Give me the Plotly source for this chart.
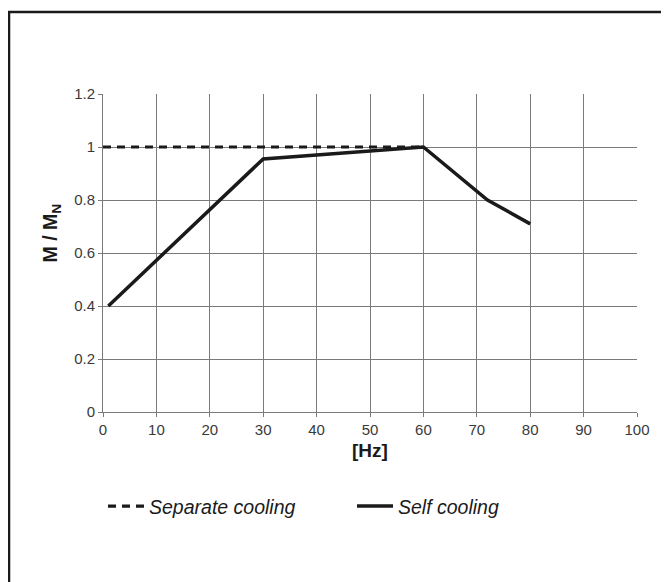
import plotly.graph_objects as go

# frequency [Hz] and torque ratio M / M_N
separate_hz = [0, 60]
separate_m = [1.0, 1.0]

self_hz = [1, 30, 60, 72, 80]
self_m = [0.40, 0.955, 1.0, 0.80, 0.71]

x_ticks = [0, 10, 20, 30, 40, 50, 60, 70, 80, 90, 100]
y_ticks = [0, 0.2, 0.4, 0.6, 0.8, 1.0, 1.2]

font_family = "Liberation Sans, Arial, sans-serif"
grid_color = "#7a7a7a"
ink = "#1a1a1a"

fig = go.Figure()

fig.add_trace(go.Scatter(
    x=separate_hz, y=separate_m,
    mode="lines",
    name="Separate cooling",
    line=dict(color=ink, width=3.2, dash="8px,6px"),
))
fig.add_trace(go.Scatter(
    x=self_hz, y=self_m,
    mode="lines",
    name="Self cooling",
    line=dict(color=ink, width=3.5),
))

tick_font = dict(family=font_family, size=15, color="#3a3a3a")

fig.update_xaxes(
    range=[0, 100],
    tickvals=x_ticks,
    showgrid=True, gridcolor=grid_color, gridwidth=1,
    showline=True, linecolor=grid_color, linewidth=1,
    zeroline=False,
    ticks="outside", ticklen=4, tickcolor=grid_color,
    tickfont=tick_font,
    title=dict(text="<b>[Hz]</b>", standoff=6,
               font=dict(family=font_family, size=19, color=ink)),
)
fig.update_yaxes(
    range=[0, 1.2],
    tickvals=y_ticks,
    showgrid=True, gridcolor=grid_color, gridwidth=1,
    showline=True, linecolor=grid_color, linewidth=1,
    zeroline=False,
    ticks="outside", ticklen=4, tickcolor=grid_color,
    tickfont=tick_font,
)

# y axis title sits a little above the middle of the axis in the original
fig.add_annotation(
    text="<b>M / M<sub>N</sub></b>",
    xref="paper", yref="paper", x=-0.096, y=0.564,
    xanchor="center", yanchor="middle",
    textangle=-90, showarrow=False,
    font=dict(family=font_family, size=19.5, color=ink),
)

# outer frame (left and top edges visible, rest off the picture)
fig.add_shape(type="rect", xref="paper", yref="paper",
              x0=-0.176, x1=1.2, y0=-0.7, y1=1.258,
              line=dict(color=ink, width=2.5), layer="above")

fig.update_layout(
    width=669, height=582,
    margin=dict(l=95, r=40, t=86, b=178),
    plot_bgcolor="white", paper_bgcolor="white",
    legend=dict(
        orientation="h",
        x=0.0, xanchor="left",
        y=-0.297, yanchor="middle",
        entrywidth=198, entrywidthmode="pixels",
        itemwidth=36,
        font=dict(family=font_family, size=19.5, color=ink, style="italic"),
    ),
)

fig.write_html("out.html")
